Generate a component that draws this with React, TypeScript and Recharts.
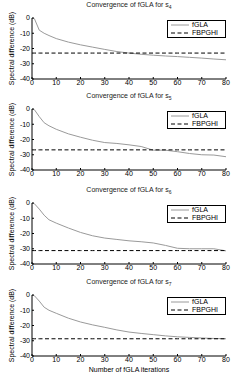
import { Line, LineChart, XAxis, YAxis } from "recharts";

const iterations = [0, 1, 3, 5, 7, 10, 15, 20, 25, 30, 35, 40, 45, 50, 55, 60, 65, 70, 75, 80];

const fglaS4 = [0, -0.5, -8, -10, -11.5, -13.5, -15.8, -17.6, -19.1, -20.6, -22, -23, -23.8, -24.4, -24.9, -25.3, -25.8, -26.3, -26.9, -27.4];
const fglaS5 = [0, -0.5, -5, -9, -11, -13.3, -16.3, -18.5, -20.5, -22, -22.6, -23.5, -24.6, -27, -27, -28, -29.2, -30, -30.2, -31.3];
const fglaS6 = [0, -0.5, -4, -8, -11, -13.2, -16.4, -19.3, -21.5, -23, -23.9, -24.8, -25.4, -26.2, -27.8, -29.7, -30, -30, -30, -31.4];
const fglaS7 = [0, -0.5, -4, -8, -10, -12, -15.2, -17.7, -19.6, -21.2, -22.9, -24.3, -25.2, -26, -26.8, -27.4, -27.8, -28.2, -28.5, -28.7];

const fbpghi = [-23, -26.8, -31.2, -28.7];
const subscripts = ["4", "5", "6", "7"];
const xTicks = [0, 10, 20, 30, 40, 50, 60, 70, 80];
const yTicks = [-40, -30, -20, -10, 0];

const FONT = "'Liberation Sans', Arial, sans-serif";
const tickStyle = { fontSize: 7, fill: "#000", fontFamily: FONT };

// legend drawn as a plain box, like matlab's
function LegendBox() {
  return (
    <div
      style={{
        position: "absolute",
        left: 167,
        top: 20,
        border: "1px solid #000",
        background: "#fff",
        fontFamily: FONT,
        fontSize: 7,
        width: 55,
        height: 16,
        padding: "0 0 0 2px",
        lineHeight: "8px",
      }}
    >
      <div style={{ display: "flex", alignItems: "center", height: 8 }}>
        <svg width={20} height={8}>
          <line x1={1} y1={4} x2={19} y2={4} stroke="#9a9a9a" strokeWidth={1} />
        </svg>
        <span style={{ marginLeft: 2 }}>fGLA</span>
      </div>
      <div style={{ display: "flex", alignItems: "center", height: 8 }}>
        <svg width={20} height={8}>
          <line x1={1} y1={4} x2={19} y2={4} stroke="#000" strokeWidth={1} strokeDasharray="4 2.5" />
        </svg>
        <span style={{ marginLeft: 2 }}>FBPGHI</span>
      </div>
    </div>
  );
}

function Panel({
  idx,
  values,
  top,
  last,
}: {
  idx: number;
  values: number[];
  top: number;
  last: boolean;
}) {
  const data = iterations.map((it, i) => ({ it, fgla: values[i], fbpghi: fbpghi[idx] }));
  const height = last ? 95 : 92;
  return (
    <div style={{ position: "absolute", left: 0, top, width: 240, height }}>
      <div
        style={{
          position: "absolute",
          left: 32,
          width: 194,
          top: 1,
          textAlign: "center",
          fontFamily: FONT,
          fontSize: 7,
          color: "#222",
        }}
      >
        Convergence of fGLA for s<sub style={{ fontSize: 5 }}>{subscripts[idx]}</sub>
      </div>
      <LineChart width={240} height={height} data={data} margin={{ top: 18, right: 14, left: 0, bottom: 0 }}>
        <XAxis
          dataKey="it"
          type="number"
          domain={[0, 80]}
          ticks={xTicks}
          tick={tickStyle}
          tickSize={-2}
          tickMargin={3}
          stroke="#000"
          height={last ? 16 : 13}
          label={
            last
              ? { value: "Number of fGLA iterations", position: "insideBottom", offset: 0, style: { ...tickStyle, fontSize: 7 } }
              : undefined
          }
        />
        <XAxis xAxisId="top" dataKey="it" type="number" domain={[0, 80]} ticks={xTicks} orientation="top" tick={false} tickSize={-2} stroke="#000" height={0} />
        <YAxis
          type="number"
          domain={[-40, 0]}
          ticks={yTicks}
          tick={tickStyle}
          tickSize={-2}
          tickMargin={4}
          stroke="#000"
          width={32}
          label={{
            value: "Spectral difference (dB)",
            angle: -90,
            position: "insideLeft",
            offset: 12,
            style: { ...tickStyle, fontSize: 7, textAnchor: "middle" },
          }}
        />
        <YAxis yAxisId="right" orientation="right" type="number" domain={[-40, 0]} ticks={yTicks} tick={false} tickSize={-2} stroke="#000" width={0} />
        <Line dataKey="fgla" stroke="#9a9a9a" strokeWidth={1} dot={false} type="linear" isAnimationActive={false} />
        <Line dataKey="fbpghi" stroke="#000" strokeWidth={1} strokeDasharray="4 2.5" dot={false} type="linear" isAnimationActive={false} />
      </LineChart>
      <LegendBox />
    </div>
  );
}

export default function App() {
  const series = [fglaS4, fglaS5, fglaS6, fglaS7];
  const tops = [0, 91, 185, 277];
  return (
    <div style={{ position: "fixed", left: 0, top: 0, width: 240, height: 372, background: "#fff", overflow: "hidden" }}>
      {series.map((s, i) => (
        <Panel key={i} idx={i} values={s} top={tops[i]} last={i === 3} />
      ))}
    </div>
  );
}
